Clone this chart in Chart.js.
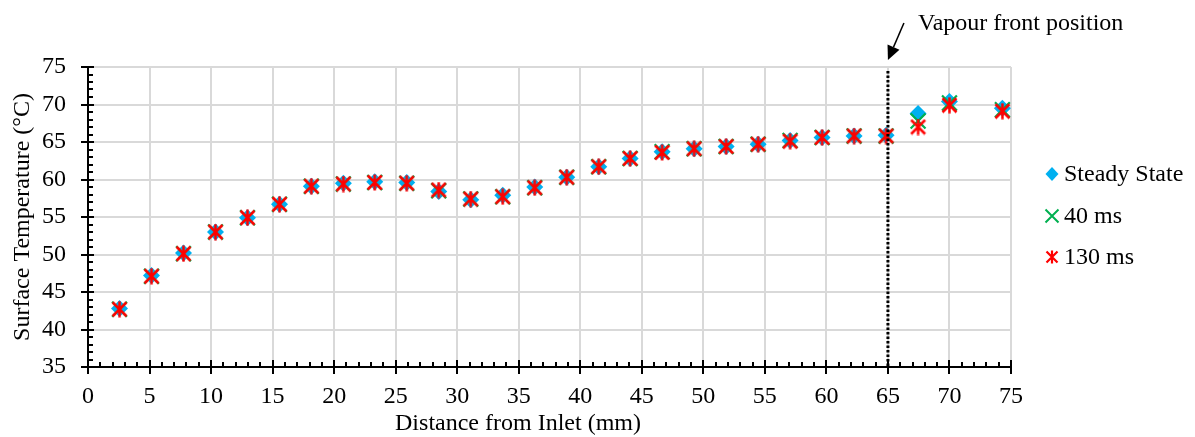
<!DOCTYPE html>
<html>
<head>
<meta charset="utf-8">
<script src="https://cdn.jsdelivr.net/npm/chart.js@4.4.1/dist/chart.umd.min.js"></script>
<style>
  html, body { margin: 0; padding: 0; background: #ffffff; }
  #wrap { width: 1195px; height: 437px; position: relative; }
</style>
</head>
<body>
<div id="wrap"><canvas id="c" width="1195" height="437"></canvas></div>
<script>
// ---- Data ----
const distances = [2.56, 5.16, 7.76, 10.36, 12.96, 15.56, 18.15, 20.75, 23.3, 25.9, 28.5, 31.1, 33.7, 36.3, 38.9, 41.5, 44.05, 46.65, 49.25, 51.85, 54.45, 57.05, 59.65, 62.25, 64.85, 67.45, 70.0, 74.3];
const steadyState = [42.8, 47.2, 50.2, 53.0, 54.9, 56.7, 59.1, 59.5, 59.7, 59.6, 58.4, 57.3, 57.9, 59.0, 60.3, 61.7, 62.8, 63.7, 64.1, 64.4, 64.7, 65.2, 65.6, 65.8, 65.9, 68.8, 70.4, 69.5];
const ms40 = [42.7, 47.1, 50.1, 53.0, 54.9, 56.7, 59.1, 59.4, 59.6, 59.5, 58.5, 57.4, 57.7, 58.9, 60.3, 61.7, 62.8, 63.7, 64.1, 64.4, 64.7, 65.2, 65.6, 65.8, 65.8, 67.8, 70.2, 69.3];
const ms130 = [42.7, 47.1, 50.1, 53.0, 54.9, 56.7, 59.1, 59.4, 59.6, 59.5, 58.6, 57.4, 57.7, 58.9, 60.3, 61.7, 62.8, 63.6, 64.1, 64.4, 64.7, 65.1, 65.6, 65.8, 65.8, 67.0, 69.9, 69.1];
const seriesNames = ['Steady State', '40 ms', '130 ms'];
const xTitle = 'Distance from Inlet (mm)';
const yTitle = 'Surface Temperature (\u00B0C)';
const annotationText = 'Vapour front position';
const vapourFront = 65;
const xRange = [0, 75];
const yRange = [35, 75];

// ---- Styles ----
const FONT = '"Liberation Serif", "Times New Roman", serif';
const FS = 24;
const BLUE = '#00B0F0', GREEN = '#00B050', RED = '#FF0000';

function makeStar(size, lw, color) {
  const c = document.createElement('canvas');
  c.width = size; c.height = size;
  const g = c.getContext('2d');
  g.strokeStyle = color; g.lineWidth = lw; g.lineCap = 'butt';
  const m = 1.5, s = size;
  g.beginPath();
  g.moveTo(m, m); g.lineTo(s - m, s - m);
  g.moveTo(s - m, m); g.lineTo(m, s - m);
  g.moveTo(s / 2, 0.5); g.lineTo(s / 2, s - 0.5);
  g.stroke();
  return c;
}
const starImg = makeStar(17, 2.5, RED);

const toPts = (ys) => distances.map((x, i) => ({ x: x, y: ys[i] }));

const extras = {
  id: 'extras',
  afterDatasetsDraw(chart) {
    const ctx = chart.ctx, a = chart.chartArea, xs = chart.scales.x;
    const px = xs.getPixelForValue(vapourFront);
    ctx.save();
    ctx.strokeStyle = '#000'; ctx.lineWidth = 3;
    ctx.setLineDash([2.5, 2]);
    ctx.beginPath(); ctx.moveTo(px, a.top + 4); ctx.lineTo(px, a.bottom); ctx.stroke();
    ctx.restore();
  },
  afterDraw(chart) {
    const ctx = chart.ctx, a = chart.chartArea, xs = chart.scales.x, ys = chart.scales.y;
    ctx.save();
    // axis tick marks
    ctx.strokeStyle = '#000'; ctx.lineWidth = 2;
    ctx.beginPath();
    for (let v = xRange[0]; v <= xRange[1]; v += 1) {
      const p = Math.round(xs.getPixelForValue(v)) ;
      if (v % 5 === 0) { ctx.moveTo(p, a.bottom - 7); ctx.lineTo(p, a.bottom + 7); }
      else { ctx.moveTo(p, a.bottom - 5); ctx.lineTo(p, a.bottom); }
    }
    for (let v = yRange[0]; v <= yRange[1]; v += 1) {
      const p = Math.round(ys.getPixelForValue(v));
      if (v % 5 === 0) { ctx.moveTo(a.left - 7, p); ctx.lineTo(a.left + 6, p); }
      else { ctx.moveTo(a.left, p); ctx.lineTo(a.left + 5, p); }
    }
    ctx.stroke();

    // titles
    ctx.fillStyle = '#000';
    ctx.font = FS + 'px ' + FONT;
    ctx.textAlign = 'center'; ctx.textBaseline = 'middle';
    ctx.fillText(xTitle, 518, 424);
    ctx.save();
    ctx.translate(23, (a.top + a.bottom) / 2);
    ctx.rotate(-Math.PI / 2);
    ctx.fillText(yTitle, 0, 0);
    ctx.restore();

    // annotation
    const tipX = xs.getPixelForValue(vapourFront), tipY = a.top - 7;
    const sx = tipX + 16, sy = 23;
    const dx = tipX - sx, dy = tipY - sy, L = Math.hypot(dx, dy);
    const ux = dx / L, uy = dy / L;
    const hl = 14, hw = 6.5;
    const bx = tipX - ux * hl, by = tipY - uy * hl;
    ctx.strokeStyle = '#000'; ctx.lineWidth = 1.5;
    ctx.beginPath(); ctx.moveTo(sx, sy); ctx.lineTo(bx, by); ctx.stroke();
    ctx.fillStyle = '#000';
    ctx.beginPath();
    ctx.moveTo(tipX, tipY);
    ctx.lineTo(bx - uy * hw, by + ux * hw);
    ctx.lineTo(bx + uy * hw, by - ux * hw);
    ctx.closePath(); ctx.fill();
    ctx.textAlign = 'left'; ctx.textBaseline = 'alphabetic';
    ctx.fillText(annotationText, 918, 30);

    // legend
    const rows = [174, 216, 257];
    const mx = 1052;
    chart.data.datasets.forEach((ds, i) => {
      const y = rows[i];
      if (i === 0) {
        ctx.fillStyle = BLUE;
        ctx.beginPath();
        ctx.moveTo(mx, y - 7); ctx.lineTo(mx + 6.5, y); ctx.lineTo(mx, y + 7); ctx.lineTo(mx - 6.5, y);
        ctx.closePath(); ctx.fill();
      } else if (i === 1) {
        ctx.strokeStyle = GREEN; ctx.lineWidth = 2;
        ctx.beginPath();
        ctx.moveTo(mx - 6.5, y - 6.5); ctx.lineTo(mx + 6.5, y + 6.5);
        ctx.moveTo(mx + 6.5, y - 6.5); ctx.lineTo(mx - 6.5, y + 6.5);
        ctx.stroke();
      } else {
        ctx.drawImage(makeStar(14, 2.2, RED), mx - 7, y - 7);
      }
      ctx.fillStyle = '#000';
      ctx.textAlign = 'left'; ctx.textBaseline = 'middle';
      ctx.fillText(ds.label, 1064, y + 1);
    });
    ctx.restore();
  }
};

new Chart(document.getElementById('c'), {
  type: 'scatter',
  data: {
    datasets: [
      { label: seriesNames[0], data: toPts(steadyState), pointStyle: 'rectRot', pointRadius: 8.5, pointHoverRadius: 8.5,
        backgroundColor: BLUE, borderColor: BLUE, borderWidth: 0, order: 3 },
      { label: seriesNames[1], data: toPts(ms40), pointStyle: 'crossRot', pointRadius: 10.5, pointHoverRadius: 10.5,
        backgroundColor: GREEN, borderColor: GREEN, borderWidth: 2.2, order: 2 },
      { label: seriesNames[2], data: toPts(ms130), pointStyle: starImg, pointRadius: 8,
        backgroundColor: RED, borderColor: RED, borderWidth: 2, order: 1 }
    ]
  },
  options: {
    responsive: false,
    animation: false,
    events: [],
    layout: { padding: { top: 67, right: 184, bottom: 0, left: 0 } },
    plugins: { legend: { display: false }, tooltip: { enabled: false } },
    scales: {
      x: {
        type: 'linear', min: xRange[0], max: xRange[1],
        afterFit: (s) => { s.height = 70; },
        ticks: { stepSize: 5, padding: 15, color: '#000', font: { family: FONT, size: FS }, maxRotation: 0 },
        grid: { color: '#d9d9d9', lineWidth: 2, drawTicks: false },
        border: { color: '#000', width: 2 }
      },
      y: {
        type: 'linear', min: yRange[0], max: yRange[1],
        afterFit: (s) => { s.width = 88; },
        ticks: { stepSize: 5, padding: 22, color: '#000', font: { family: FONT, size: FS } },
        grid: { color: '#d9d9d9', lineWidth: 2, drawTicks: false },
        border: { color: '#000', width: 2 }
      }
    }
  },
  plugins: [extras]
});
</script>
</body>
</html>
